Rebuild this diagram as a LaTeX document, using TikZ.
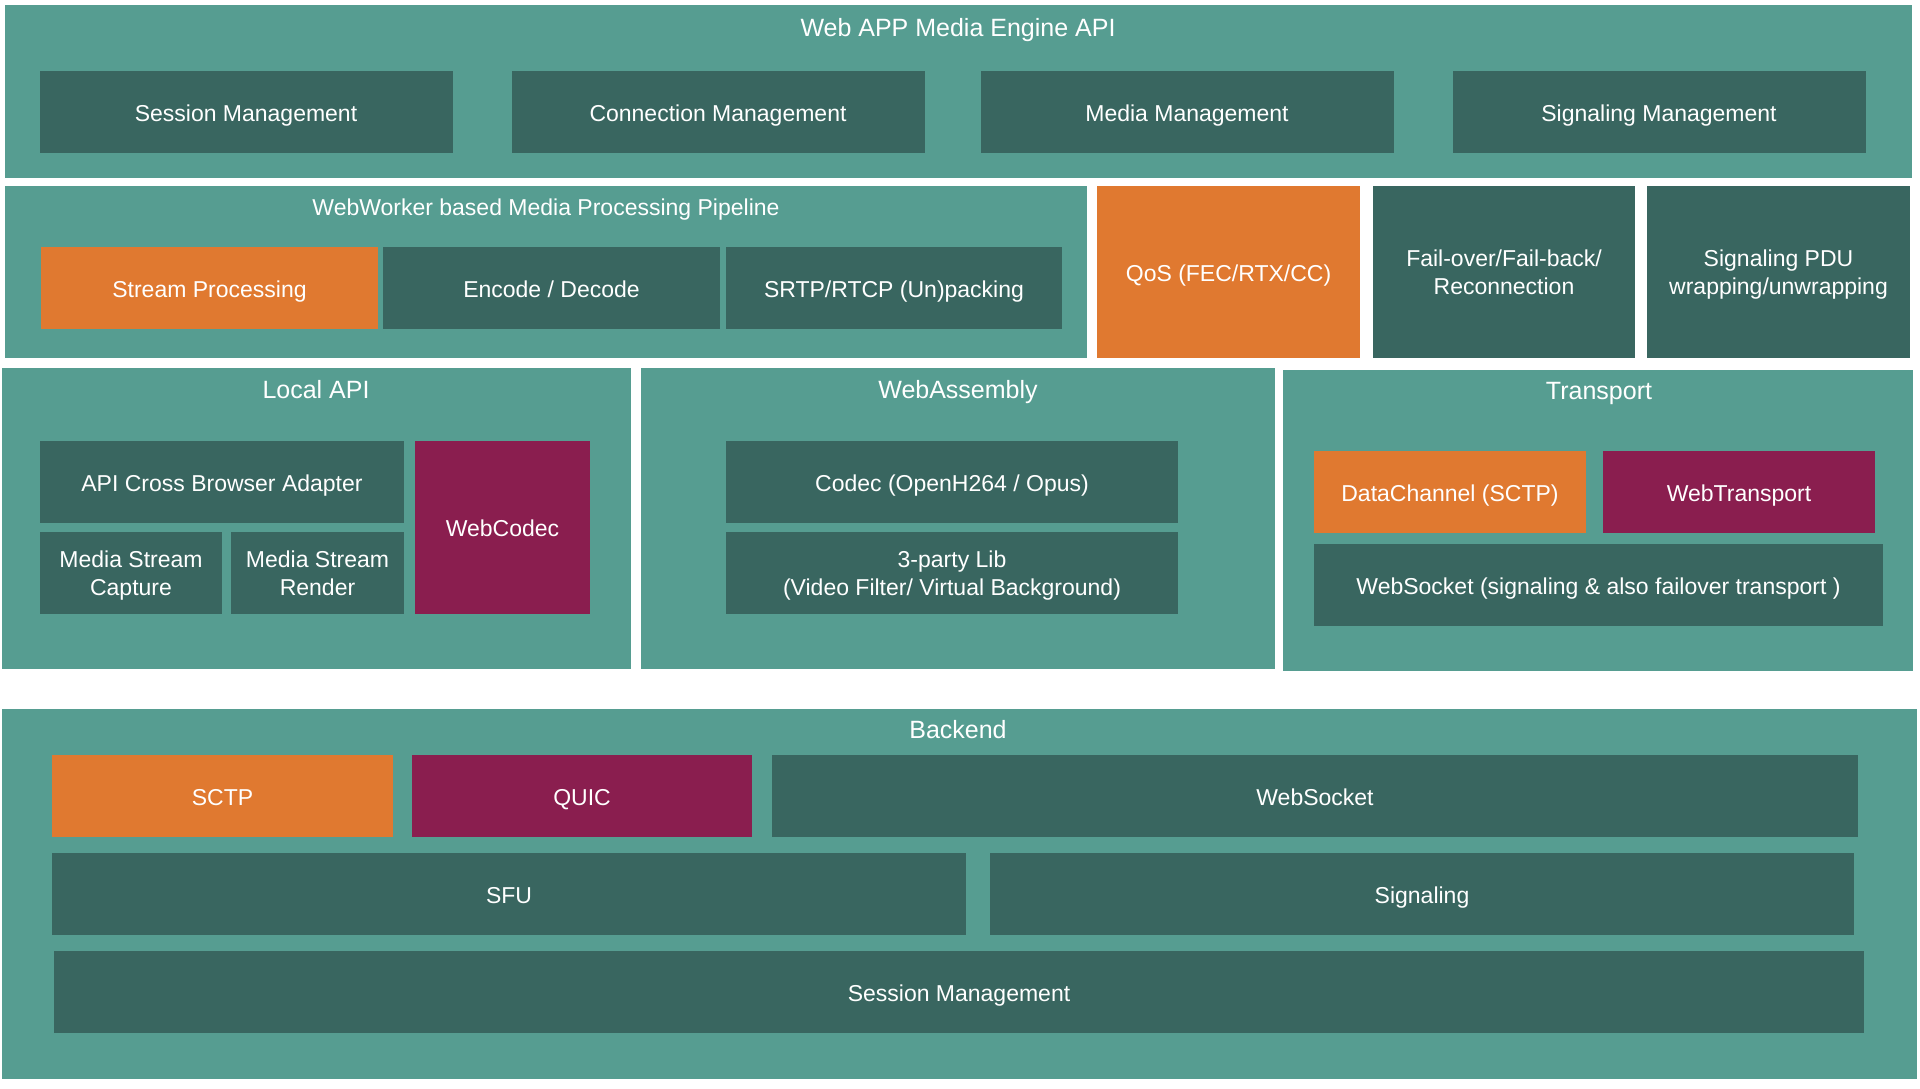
\documentclass[tikz,border=0pt]{standalone}
\usepackage{fontspec}
\setmainfont{Liberation Sans}
\definecolor{panelteal}{HTML}{569D91}
\definecolor{boxteal}{HTML}{396660}
\definecolor{hotorange}{HTML}{E07930}
\definecolor{wine}{HTML}{8A1E4F}
\newcommand{\titlestrut}{\rule[-.22em]{0pt}{1.18em}}
\newcommand{\boxstrut}{\rule[-.22em]{0pt}{1.24em}}
\newcommand{\tallstrut}{\rule{0pt}{1em}}
\newcommand{\lowstrut}{\rule[-.22em]{0pt}{0pt}}
\begin{document}
\begin{tikzpicture}[x=0.5pt,y=-0.5pt,
	panel/.style={fill=panelteal},
	ttl/.style={text=white,inner sep=0pt,font=\fontsize{12.5}{15}\selectfont,execute at begin node=\titlestrut},
	sz/.style 2 args={minimum width=#1*0.5pt,minimum height=#2*0.5pt},
	cell/.style={fill=boxteal,text=white,align=center,inner sep=0pt,outer sep=0pt,font=\fontsize{11.5}{14}\selectfont},
	blk/.style={cell,execute at begin node=\boxstrut},
	dbl/.style={cell},
	org/.style={blk,fill=hotorange},
	pur/.style={blk,fill=wine}]
		\useasboundingbox[fill=white] (0,0) rectangle (1920,1088);
		\fill [panel] (5,5) rectangle (1912,178);
		\node [ttl] (engineT) at (958,27) {Web APP Media Engine API};
		\node [blk,sz={413}{82}] (sessMgmt) at (246,112) {Session Management};
		\node [blk,sz={413}{82}] (connMgmt) at (718,112) {Connection Management};
		\node [blk,sz={413}{82}] (mediaMgmt) at (1187,112) {Media Management};
		\node [blk,sz={413}{82}] (sigMgmt) at (1659,112) {Signaling Management};
		\fill [panel] (5,186) rectangle (1087,358);
		\node [ttl,font=\fontsize{11.5}{14}\selectfont] (workerT) at (546,207) {WebWorker based Media Processing Pipeline};
		\node [org,sz={337}{82}] (stream) at (209.5,288) {Stream Processing};
		\node [blk,sz={337}{82}] (encdec) at (551.5,288) {Encode / Decode};
		\node [blk,sz={336}{82}] (srtp) at (894,288) {SRTP/RTCP (Un)packing};
		\node [org,sz={263}{172}] (qos) at (1228.5,272) {QoS (FEC/RTX/CC)};
		\node [dbl,sz={262}{172}] (failover) at (1504,272) {\tallstrut Fail-over/Fail-back/\\Reconnection\lowstrut};
		\node [dbl,sz={263}{172}] (sigPdu) at (1778.5,272) {\tallstrut Signaling PDU\\wrapping/unwrapping\lowstrut};
		\fill [panel] (2,368) rectangle (631,669);
		\node [ttl] (localT) at (316,389) {Local API};
		\node [blk,sz={364}{82}] (adapter) at (222,482) {API Cross Browser Adapter};
		\node [dbl,sz={182}{82}] (capture) at (131,573) {\tallstrut Media Stream\\Capture\lowstrut};
		\node [dbl,sz={173}{82}] (render) at (317.5,573) {\tallstrut Media Stream\\Render\lowstrut};
		\node [pur,sz={175}{173}] (webcodec) at (502.5,527.5) {WebCodec};
		\fill [panel] (641,368) rectangle (1275,669);
		\node [ttl] (wasmT) at (958,389) {WebAssembly};
		\node [blk,sz={452}{82}] (codec) at (952,482) {Codec (OpenH264 / Opus)};
		\node [dbl,sz={452}{82}] (thirdLib) at (952,573) {\tallstrut 3-party Lib\\(Video Filter/ Virtual Background)\lowstrut};
		\fill [panel] (1283,370) rectangle (1913,671);
		\node [ttl] (transT) at (1599,390) {Transport};
		\node [org,sz={272}{82}] (datachan) at (1450,492) {DataChannel (SCTP)};
		\node [pur,sz={272}{82}] (webtrans) at (1739,492) {WebTransport};
		\node [blk,sz={569}{82}] (wsock) at (1598.5,585) {WebSocket (signaling \& also failover transport )};
		\fill [panel] (2,709) rectangle (1917,1079);
		\node [ttl] (backT) at (958,729) {Backend};
		\node [org,sz={341}{82}] (sctp) at (222.5,796) {SCTP};
		\node [pur,sz={340}{82}] (quic) at (582,796) {QUIC};
		\node [blk,sz={1086}{82}] (backWs) at (1315,796) {WebSocket};
		\node [blk,sz={914}{82}] (sfu) at (509,894) {SFU};
		\node [blk,sz={864}{82}] (backSig) at (1422,894) {Signaling};
		\node [blk,sz={1810}{82}] (backSess) at (959,992) {Session Management};
\end{tikzpicture}
\end{document}
